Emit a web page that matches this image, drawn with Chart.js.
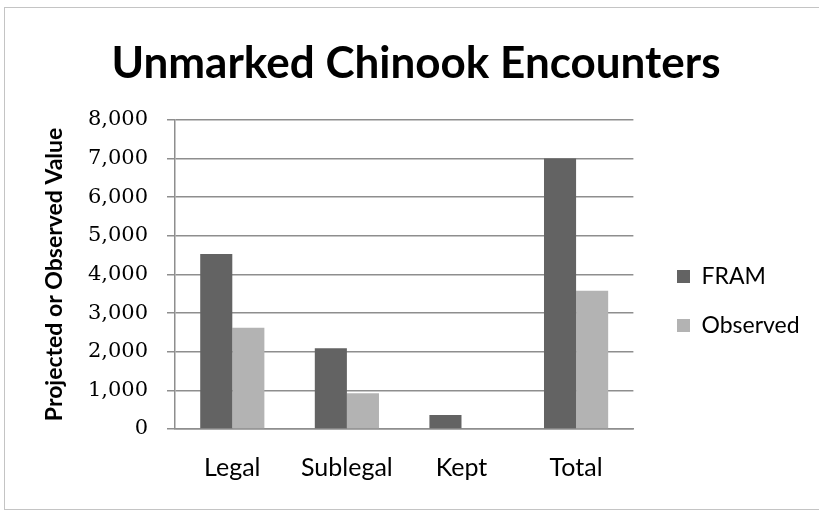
<!DOCTYPE html>
<html>
<head>
<meta charset="utf-8">
<script src="https://cdn.jsdelivr.net/npm/chart.js@4/dist/chart.umd.min.js"></script>
<style>
  html, body { margin: 0; padding: 0; background: #fff; }
  #wrap { position: relative; width: 819px; height: 514px; overflow: hidden; }
  #frame { position: absolute; left: 4px; top: 7px; width: 830px; height: 503px; border: 1px solid #c4c4c4; box-sizing: border-box; }
  canvas { position: absolute; left: 0; top: 0; }
</style>
</head>
<body>
<div id="wrap">
  <div id="frame"></div>
  <canvas id="chart" width="819" height="514"></canvas>
</div>
<script>
  // chart data
  const categories = ['Legal', 'Sublegal', 'Kept', 'Total'];
  const framValues = [4530, 2090, 360, 7000];
  const observedValues = [2620, 925, 0, 3580];
  const seriesNames = ['FRAM', 'Observed'];
  const yTicks = [0, 1000, 2000, 3000, 4000, 5000, 6000, 7000, 8000];

  const SANS = "Lato, 'Open Sans', sans-serif";
  const GRID = '#8e8e8e';

  // Nudge the legend block to where Excel put it (further right / lower).
  const legendNudge = {
    id: 'legendNudge',
    afterLayout(chart) {
      const lg = chart.legend;
      if (!lg) return;
      const dx = 677 - (lg.left + lg.options.labels.padding);
      lg.left += dx; lg.right += dx;
      const colH = lg.columnSizes && lg.columnSizes[0] ? lg.columnSizes[0].height : 0;
      const curTop = (lg.top + lg.options.labels.padding + lg.bottom - colH) / 2;
      const dy = 265 - curTop;
      lg.top += dy; lg.bottom += dy;
    }
  };

  new Chart(document.getElementById('chart'), {
    type: 'bar',
    data: {
      labels: categories,
      datasets: [
        { label: seriesNames[0], data: framValues, backgroundColor: '#636363' },
        { label: seriesNames[1], data: observedValues, backgroundColor: '#b3b3b3' }
      ]
    },
    plugins: [legendNudge],
    options: {
      responsive: false,
      animation: false,
      devicePixelRatio: 1,
      datasets: { bar: { categoryPercentage: 0.56, barPercentage: 1.0 } },
      layout: { padding: { left: 40, right: 27, top: 0, bottom: 25 } },
      plugins: {
        title: {
          display: true,
          text: 'Unmarked Chinook Encounters',
          color: '#000',
          font: { family: SANS, size: 44, weight: 'bold' },
          padding: { top: 37, bottom: 30 }
        },
        legend: {
          position: 'right',
          labels: {
            color: '#000',
            boxWidth: 13,
            boxHeight: 13,
            padding: 26,
            font: { family: SANS, size: 23 }
          }
        },
        tooltip: { enabled: false }
      },
      scales: {
        x: {
          grid: { display: false, drawTicks: false },
          border: { display: true, color: GRID, width: 1.5 },
          ticks: { color: '#000', padding: 24, font: { family: SANS, size: 25 } },
          afterFit: (s) => { s.height = 60; }
        },
        y: {
          min: 0,
          max: 8000,
          afterBuildTicks: (s) => { s.ticks = yTicks.map((v) => ({ value: v })); },
          grid: { color: GRID, lineWidth: 1.5, tickLength: 8 },
          border: { display: true, color: GRID, width: 1.5 },
          ticks: {
            color: '#000',
            padding: 19,
            font: { family: "'DejaVu Serif', serif", size: 21 },
            callback: (v) => Number(v).toLocaleString('en-US')
          },
          title: {
            display: true,
            text: 'Projected or Observed Value',
            color: '#000',
            font: { family: SANS, size: 23, weight: 'bold' },
            padding: { top: 1, bottom: 0 }
          },
          afterFit: (s) => { s.width = 135; }
        }
      }
    }
  });
</script>
</body>
</html>
